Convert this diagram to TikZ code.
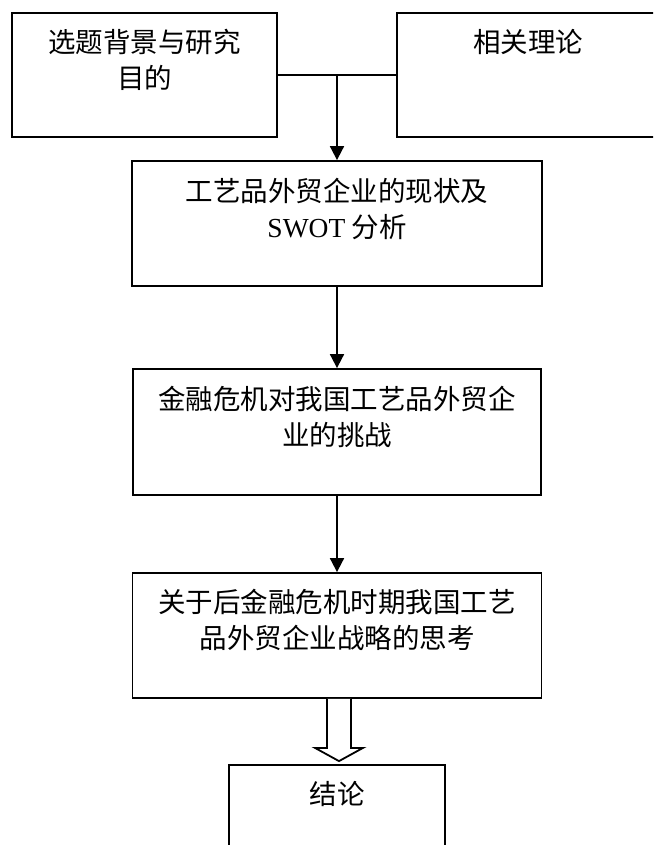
\documentclass[tikz,border=0pt]{standalone}
\usepackage{fontspec}
\setmainfont{Noto Sans CJK SC}
\newfontfamily\latfont{Liberation Serif}
\usetikzlibrary{arrows.meta,calc}
\begin{document}
\begin{tikzpicture}[x=1pt,y=-1pt,
  box/.style={draw=black,line width=1.8pt,rectangle,inner sep=0pt},
  txt/.style={align=center,inner sep=0pt,font=\fontsize{27.5}{36}\selectfont},
  link/.style={line width=1.8pt},
  arr/.style={line width=1.8pt,-{Triangle[width=14pt,length=14pt]}}]
\useasboundingbox (0,0) rectangle (653,845);
\begin{scope}
\clip (0,0) rectangle (653,845);
\node[box,minimum width=265pt,minimum height=124pt] (b1) at (144.5,75) {};
\node[box,minimum width=262pt,minimum height=124pt] (b2) at (528,75) {};
\node[box,minimum width=410pt,minimum height=125pt] (b3) at (337,223.5) {};
\node[box,minimum width=408pt,minimum height=126pt] (b4) at (337,432) {};
\node[box,minimum width=409pt,minimum height=125pt] (b5) at (337,635.5) {};
\node[box,minimum width=216pt,minimum height=110pt] (b6) at (337,820) {};
\end{scope}
\node[txt,anchor=base] (t1) at ($(b1.north)+(0,76)$) {选题背景与研究\\目的};
\node[txt,anchor=base] (t2) at ($(b2.north)+(0,40)$) {相关理论};
\node[txt,anchor=base] (t3) at ($(b3.north)+(0,77)$) {工艺品外贸企业的现状及\\{\latfont SWOT} 分析};
\node[txt,anchor=base] (t4) at ($(b4.north)+(0,77)$) {金融危机对我国工艺品外贸企\\业的挑战};
\node[txt,anchor=base] (t5) at ($(b5.north)+(0,76)$) {关于后金融危机时期我国工艺\\品外贸企业战略的思考};
\node[txt,anchor=base] (t6) at ($(b6.north)+(0,40)$) {结论};
\draw[link] (b1.east) -- (b2.west);
\coordinate (j) at ($(b1.east)!0.5!(b2.west)$);
\draw[arr] (j) -- (j |- b3.north);
\draw[arr] (b3.south) -- (b4.north);
\draw[arr] (b4.south) -- (b5.north);
\draw[line width=1.8pt,line join=miter,fill=white]
  ($(b5.south)+(-10,0)$) -- ++(0,49) -- ++(-12,0) -- ($(b6.north)+(2,-3)$)
  -- ($(b5.south)+(26,49)$) -- ++(-12,0) -- ++(0,-49);
\end{tikzpicture}
\end{document}
